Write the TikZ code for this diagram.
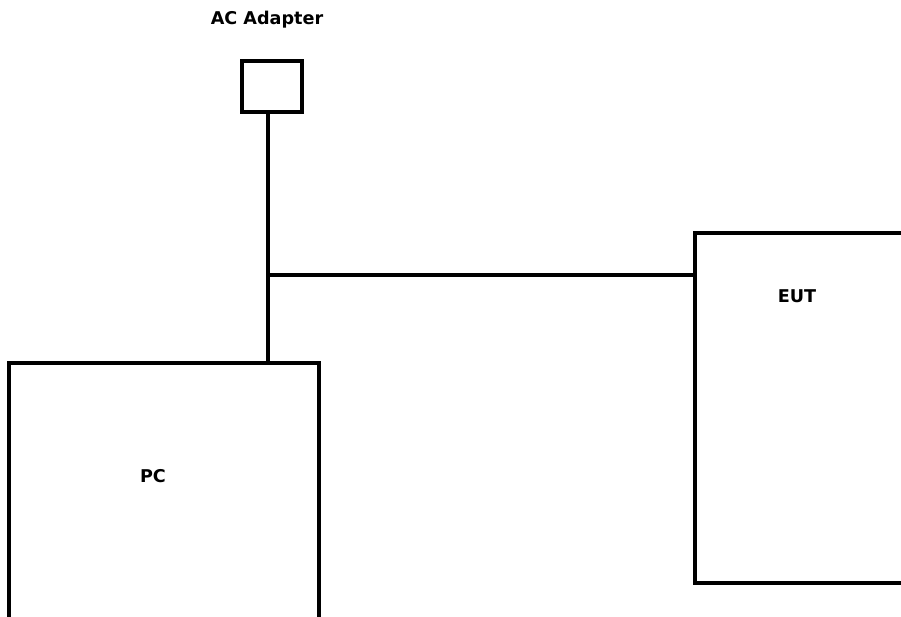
\documentclass[tikz,border=0pt]{standalone}
\usepackage{fontspec}
\setmainfont{DejaVu Sans}
\usepackage{tikz}
\usetikzlibrary{calc}
\definecolor{wirecolor}{RGB}{0, 0, 0}

\tikzset{
  unitbox/.style={
    draw=wirecolor,
    line width=2.6pt,
    rectangle,
    inner sep=0pt
  },
  wire/.style={draw=wirecolor, line width=2.6pt},
  tag/.style={font=\fontsize{13.2}{16}\selectfont\bfseries, inner sep=0pt}
}

\begin{document}
\begin{tikzpicture}[x=0.75pt, y=-0.75pt]
  \useasboundingbox (0,0) rectangle (901,617);
  \clip (0,0) rectangle (901,617);

  \node[unitbox, minimum width=45pt, minimum height=38.25pt] (adapter) at (272,86.5) {};
  \node[unitbox, minimum width=232.5pt, minimum height=207.75pt] (pc) at (164,501.5) {};
  \node[unitbox, minimum width=172.5pt, minimum height=262.5pt] (eut) at (810,408) {};

  \node[tag] (adaptertag) at (267,20) {AC Adapter};
  \node[tag] (pctag) at (153,476) {PC};
  \node[tag] (euttag) at (797,296) {EUT};

  \coordinate (jn) at (268,275);
  \draw[wire] (adapter.south -| jn) -- (pc.north -| jn);
  \draw[wire] (jn) -- (jn -| eut.west);
\end{tikzpicture}
\end{document}
